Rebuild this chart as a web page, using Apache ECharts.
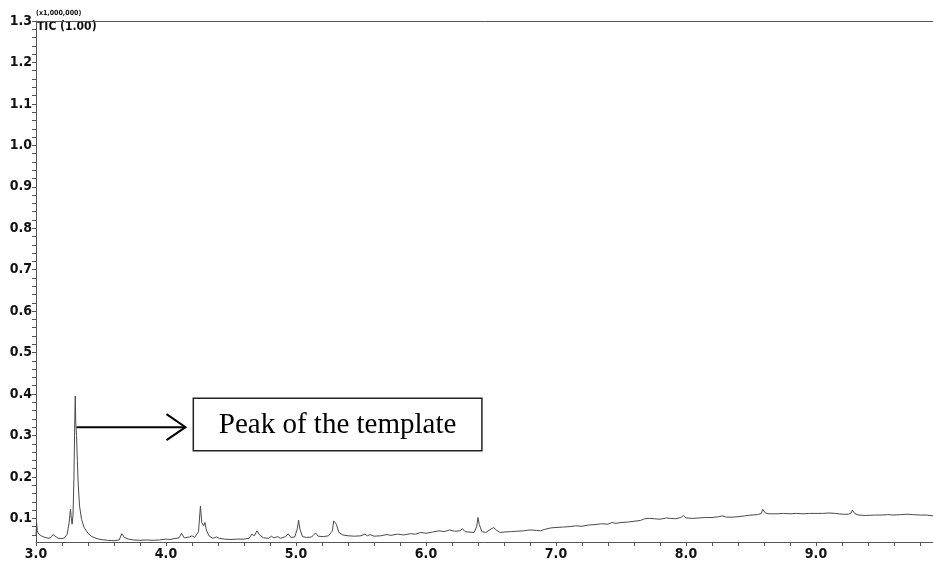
<!DOCTYPE html>
<html>
<head>
<meta charset="utf-8">
<script src="https://cdn.jsdelivr.net/npm/echarts@6/dist/echarts.min.js"></script>
<style>
  html, body { margin: 0; padding: 0; background: #ffffff; }
  #chart { width: 933px; height: 565px; }
</style>
</head>
<body>
<div id="chart"></div>
<script>
// Total ion chromatogram: retention time (min) and TIC intensity (x1,000,000)
const retentionTime = [
  3.000, 3.005, 3.010, 3.020, 3.040, 3.070, 3.100, 3.120, 3.130, 3.140,
  3.170, 3.200, 3.220, 3.240, 3.255, 3.265, 3.272, 3.278, 3.285, 3.292,
  3.298, 3.302, 3.306, 3.312, 3.318, 3.325, 3.335, 3.350, 3.370, 3.400,
  3.430, 3.470, 3.500, 3.550, 3.600, 3.640, 3.660, 3.680, 3.710, 3.750,
  3.800, 3.850, 3.900, 3.950, 4.000, 4.030, 4.060, 4.100, 4.120, 4.140,
  4.180, 4.200, 4.220, 4.250, 4.265, 4.275, 4.290, 4.300, 4.310, 4.330,
  4.360, 4.390, 4.410, 4.450, 4.500, 4.550, 4.600, 4.640, 4.660, 4.680,
  4.700, 4.720, 4.750, 4.790, 4.810, 4.830, 4.860, 4.880, 4.920, 4.940,
  4.960, 4.990, 5.010, 5.020, 5.030, 5.050, 5.080, 5.120, 5.150, 5.170,
  5.210, 5.250, 5.280, 5.290, 5.310, 5.330, 5.360, 5.400, 5.450, 5.500,
  5.530, 5.550, 5.570, 5.600, 5.650, 5.700, 5.730, 5.780, 5.830, 5.880,
  5.920, 5.960, 6.000, 6.050, 6.100, 6.140, 6.180, 6.220, 6.260, 6.280,
  6.300, 6.330, 6.370, 6.390, 6.400, 6.410, 6.430, 6.460, 6.500, 6.520,
  6.540, 6.570, 6.600, 6.650, 6.700, 6.750, 6.800, 6.850, 6.880, 6.920,
  6.960, 7.000, 7.050, 7.100, 7.150, 7.200, 7.250, 7.300, 7.350, 7.400,
  7.430, 7.460, 7.500, 7.550, 7.600, 7.650, 7.680, 7.720, 7.760, 7.800,
  7.850, 7.880, 7.920, 7.960, 7.980, 8.000, 8.050, 8.100, 8.150, 8.200,
  8.250, 8.280, 8.310, 8.360, 8.400, 8.450, 8.500, 8.550, 8.580, 8.590,
  8.610, 8.640, 8.700, 8.750, 8.800, 8.850, 8.900, 8.950, 9.000, 9.050,
  9.100, 9.150, 9.200, 9.250, 9.270, 9.280, 9.300, 9.330, 9.380, 9.450,
  9.500, 9.550, 9.600, 9.650, 9.700, 9.750, 9.800, 9.850, 9.900
];
const ticIntensity = [
  0.060, 0.088, 0.070, 0.062, 0.058, 0.054, 0.052, 0.056, 0.061, 0.057,
  0.052, 0.051, 0.053, 0.062, 0.090, 0.122, 0.100, 0.086, 0.110, 0.200,
  0.330, 0.395, 0.330, 0.300, 0.240, 0.180, 0.130, 0.098, 0.078, 0.064,
  0.056, 0.051, 0.049, 0.047, 0.046, 0.048, 0.063, 0.054, 0.050, 0.048,
  0.047, 0.048, 0.047, 0.048, 0.050, 0.049, 0.051, 0.053, 0.064, 0.053,
  0.055, 0.058, 0.054, 0.068, 0.130, 0.090, 0.082, 0.090, 0.072, 0.058,
  0.052, 0.055, 0.052, 0.050, 0.049, 0.050, 0.050, 0.052, 0.062, 0.058,
  0.070, 0.060, 0.053, 0.052, 0.057, 0.053, 0.056, 0.052, 0.056, 0.063,
  0.054, 0.055, 0.075, 0.096, 0.074, 0.056, 0.054, 0.055, 0.065, 0.057,
  0.056, 0.058, 0.070, 0.094, 0.086, 0.066, 0.060, 0.058, 0.057, 0.058,
  0.062, 0.058, 0.061, 0.057, 0.058, 0.061, 0.059, 0.062, 0.060, 0.063,
  0.062, 0.066, 0.064, 0.067, 0.070, 0.068, 0.072, 0.069, 0.070, 0.075,
  0.068, 0.067, 0.066, 0.080, 0.102, 0.085, 0.068, 0.066, 0.074, 0.078,
  0.072, 0.066, 0.067, 0.068, 0.069, 0.070, 0.072, 0.071, 0.070, 0.074,
  0.077, 0.078, 0.079, 0.080, 0.082, 0.081, 0.084, 0.085, 0.087, 0.086,
  0.090, 0.088, 0.090, 0.091, 0.093, 0.095, 0.099, 0.100, 0.099, 0.098,
  0.101, 0.100, 0.099, 0.102, 0.107, 0.101, 0.100, 0.101, 0.102, 0.102,
  0.104, 0.106, 0.103, 0.103, 0.104, 0.106, 0.108, 0.109, 0.112, 0.122,
  0.113, 0.111, 0.111, 0.112, 0.111, 0.112, 0.111, 0.112, 0.112, 0.112,
  0.113, 0.112, 0.110, 0.110, 0.113, 0.120, 0.111, 0.108, 0.107, 0.108,
  0.108, 0.109, 0.108, 0.109, 0.110, 0.109, 0.108, 0.108, 0.106
];

// Axis labels and minor tick positions
const xTickLabels = [3, 4, 5, 6, 7, 8, 9];
const yTickLabels = [0.1, 0.2, 0.3, 0.4, 0.5, 0.6, 0.7, 0.8, 0.9, 1.0, 1.1, 1.2, 1.3];

const xRange = [3.0, 9.9];
const yRange = [0.043, 1.3];

const xMinorTicks = [];
for (let i = 15; i * 0.2 <= xRange[1] + 1e-9; i++) xMinorTicks.push(+(i * 0.2).toFixed(2));
const yMinorTicks = [];
for (let i = 3; i * 0.02 <= yRange[1] + 1e-9; i++) yMinorTicks.push(+(i * 0.02).toFixed(2));

const tickFont = '"DejaVu Sans Condensed", "DejaVu Sans", sans-serif';
const axisColor = '#555555';

const chart = echarts.init(document.getElementById('chart'), null, { renderer: 'canvas' });

const series = retentionTime.map((t, i) => [t, ticIntensity[i]]);

chart.setOption({
  animation: false,
  backgroundColor: '#ffffff',
  grid: { left: 36, right: 0, top: 21, bottom: 23 },
  xAxis: [
    {
      type: 'value',
      min: xRange[0],
      max: xRange[1],
      axisLine: { show: true, lineStyle: { color: axisColor, width: 1 } },
      axisTick: { show: true, customValues: xMinorTicks, length: 4, lineStyle: { color: axisColor } },
      axisLabel: {
        customValues: xTickLabels,
        formatter: v => v.toFixed(1),
        fontFamily: tickFont, fontWeight: 'bold', fontSize: 14, color: '#111111', margin: 5
      },
      splitLine: { show: false }
    },
    {
      type: 'value',
      position: 'top',
      min: xRange[0],
      max: xRange[1],
      axisLine: { show: true, lineStyle: { color: axisColor, width: 1 } },
      axisTick: { show: false },
      axisLabel: { show: false },
      splitLine: { show: false }
    }
  ],
  yAxis: {
    type: 'value',
    min: yRange[0],
    max: yRange[1],
    axisLine: { show: true, lineStyle: { color: axisColor, width: 1 } },
    axisTick: { show: true, customValues: yMinorTicks, length: 4, lineStyle: { color: axisColor } },
    axisLabel: {
      customValues: yTickLabels,
      formatter: v => v.toFixed(1),
      fontFamily: tickFont, fontWeight: 'bold', fontSize: 14, color: '#111111', margin: 4
    },
    splitLine: { show: false }
  },
  series: [{
    type: 'line',
    xAxisIndex: 0,
    data: series,
    showSymbol: false,
    silent: true,
    lineStyle: { color: '#4a4a4a', width: 1 },
    clip: true
  }]
});

// Annotation pointing at the template peak, placed in data coordinates
const px = (x, y) => chart.convertToPixel({ gridIndex: 0 }, [x, y]);
const arrowStart = px(3.31, 0.32);
const arrowEnd = px(4.15, 0.32);
const boxTL = px(4.21, 0.39);
const boxBR = px(6.43, 0.263);

chart.setOption({
  graphic: [
    {
      type: 'text', left: 36, top: 10,
      style: { text: '(x1,000,000)', font: 'bold 7px ' + tickFont, fill: '#111' }
    },
    {
      type: 'text', left: 37, top: 21,
      style: { text: 'TIC (1.00)', font: 'bold 12px ' + tickFont, fill: '#111' }
    },
    {
      type: 'line',
      shape: { x1: arrowStart[0], y1: arrowStart[1], x2: arrowEnd[0], y2: arrowEnd[1] },
      style: { stroke: '#000', lineWidth: 2 }
    },
    {
      type: 'polyline',
      shape: { points: [[arrowEnd[0] - 19, arrowEnd[1] - 13], [arrowEnd[0], arrowEnd[1]], [arrowEnd[0] - 19, arrowEnd[1] + 13]] },
      style: { stroke: '#000', lineWidth: 2, fill: null }
    },
    {
      type: 'rect',
      shape: { x: boxTL[0], y: boxTL[1], width: boxBR[0] - boxTL[0], height: boxBR[1] - boxTL[1] },
      style: { stroke: '#222', lineWidth: 1.5, fill: '#fff' }
    },
    {
      type: 'text',
      x: (boxTL[0] + boxBR[0]) / 2, y: (boxTL[1] + boxBR[1]) / 2 + 1,
      style: {
        text: 'Peak of the template',
        font: '29px "Liberation Serif", "Times New Roman", serif',
        fill: '#000', align: 'center', verticalAlign: 'middle'
      }
    }
  ]
});
</script>
</body>
</html>
